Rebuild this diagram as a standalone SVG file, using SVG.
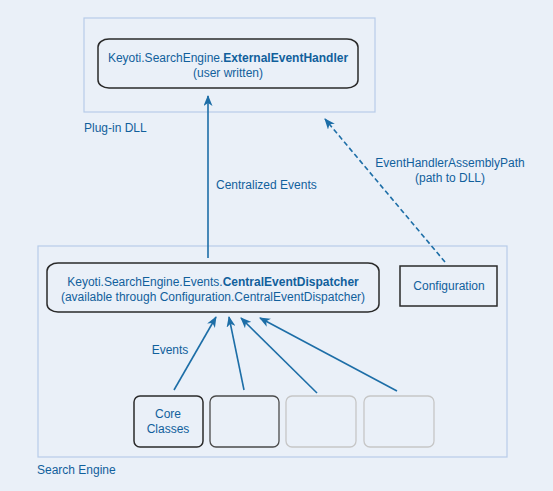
<svg xmlns="http://www.w3.org/2000/svg" width="553" height="491" viewBox="0 0 553 491">
<style>
text{font-family:"Liberation Sans",Arial,sans-serif;font-size:12px;fill:#11609C}
.c{text-anchor:middle}
.b{font-weight:bold}
.grp{fill:none;stroke:#B7CCE9;stroke-width:1.2}
.node{fill:none;stroke:#2A2A2A;stroke-width:1.5}
.ln{fill:none;stroke:#1D6EA7;stroke-width:1.6}
</style>
<defs>
<marker id="ah" markerWidth="11" markerHeight="9" refX="10" refY="4.5" orient="auto" markerUnits="userSpaceOnUse">
<path d="M0,0 L11,4.5 L0,9 L3,4.5 z" fill="#1D6EA7"/>
</marker>
</defs>
<rect width="553" height="491" fill="#EAF0F8"/>
<g id="plugin-dll">
<rect class="grp" x="84" y="18" width="291" height="94"/>
<text x="84" y="132">Plug-in DLL</text>
</g>
<g id="search-engine">
<rect class="grp" x="38" y="246" width="469" height="211"/>
<text x="37" y="474">Search Engine</text>
</g>
<g id="external-handler">
<rect class="node" x="98" y="39" width="260" height="49" rx="11" ry="8"/>
<text class="c" x="228" y="62">Keyoti.SearchEngine.<tspan class="b">ExternalEventHandler</tspan></text>
<text class="c" x="228" y="77">(user written)</text>
</g>
<g id="central-dispatcher">
<rect class="node" x="47" y="263" width="332" height="49" rx="11" ry="8"/>
<text class="c" x="213" y="286">Keyoti.SearchEngine.Events.<tspan class="b">CentralEventDispatcher</tspan></text>
<text class="c" x="213" y="301">(available through Configuration.CentralEventDispatcher)</text>
</g>
<g id="configuration">
<rect class="node" x="400" y="266" width="97" height="40"/>
<text class="c" x="449" y="290">Configuration</text>
</g>
<g id="core-classes">
<rect x="134" y="396" width="69" height="51" rx="6" fill="none" stroke="#2A2A2A" stroke-width="1.5"/>
<text class="c" x="168" y="418">Core</text>
<text class="c" x="168" y="433">Classes</text>
</g>
<g id="class-2">
<rect x="210" y="396" width="69" height="51" rx="6" fill="none" stroke="#4A4A4A" stroke-width="1.3"/>
</g>
<g id="class-3">
<rect x="286" y="396" width="70" height="51" rx="6" fill="none" stroke="#C6C6C6" stroke-width="1.3"/>
</g>
<g id="class-4">
<rect x="364" y="396" width="70" height="51" rx="6" fill="none" stroke="#C6C6C6" stroke-width="1.3"/>
</g>
<g id="connectors">
<line class="ln" x1="208" y1="258" x2="208" y2="96" marker-end="url(#ah)"/>
<text x="216" y="189">Centralized Events</text>
<line class="ln" x1="445" y1="262" x2="325" y2="119" stroke-dasharray="5,3" marker-end="url(#ah)"/>
<text class="c" x="450" y="167">EventHandlerAssemblyPath</text>
<text class="c" x="450" y="182">(path to DLL)</text>
<line class="ln" x1="174" y1="390" x2="216" y2="317" marker-end="url(#ah)"/>
<line class="ln" x1="244" y1="390" x2="229" y2="317" marker-end="url(#ah)"/>
<line class="ln" x1="317" y1="393" x2="241" y2="318" marker-end="url(#ah)"/>
<line class="ln" x1="397" y1="391" x2="260" y2="318" marker-end="url(#ah)"/>
<text class="c" x="170" y="354">Events</text>
</g>
</svg>
